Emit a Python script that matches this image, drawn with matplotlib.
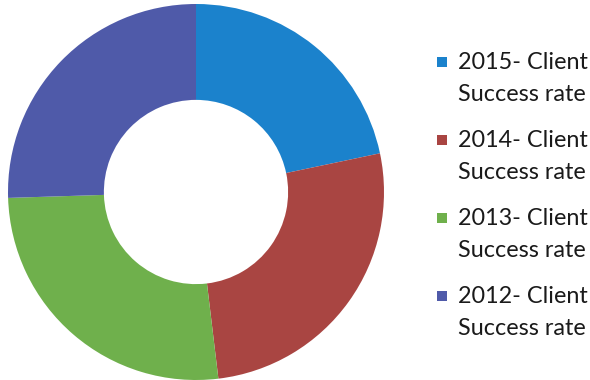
import matplotlib
matplotlib.use("Agg")
import matplotlib.pyplot as plt
from matplotlib.patches import Rectangle

years = ["2015", "2014", "2013", "2012"]
label_line1 = [y + "- Client" for y in years]
label_line2 = "Success rate"
values = [21.7, 26.4, 26.4, 25.5]
colors = ["#1b82cc", "#a94542", "#6fb04c", "#4f5aa9"]

plt.rcParams["font.family"] = ["Lato", "DejaVu Sans"]

W, H = 590, 380
fig = plt.figure(figsize=(W / 100, H / 100), dpi=100)

# Donut
ax = fig.add_axes([8 / W, 0 / H, 376 / W, 376 / H])
ax.pie(values, colors=colors, startangle=90, counterclock=False,
       radius=1.0, wedgeprops=dict(width=0.51, edgecolor="none"))
ax.set_xlim(-1, 1)
ax.set_ylim(-1, 1)
ax.set_aspect("equal")
ax.axis("off")

# Legend: colour square + two-line label per series
for i, (txt, col) in enumerate(zip(label_line1, colors)):
    base1 = 69 + 78 * i
    base2 = 101 + 78 * i
    sq_top = 57 + 78 * i
    fig.add_artist(Rectangle((437 / W, 1 - (sq_top + 9.5) / H), 9.5 / W, 9.5 / H,
                             transform=fig.transFigure, facecolor=col,
                             edgecolor="none"))
    fig.text(458 / W, 1 - base1 / H, txt, fontsize=16.8, color="#1a1a1a",
             ha="left", va="baseline")
    fig.text(458 / W, 1 - base2 / H, label_line2, fontsize=16.8, color="#1a1a1a",
             ha="left", va="baseline")

fig.savefig("out.png", dpi=100)
